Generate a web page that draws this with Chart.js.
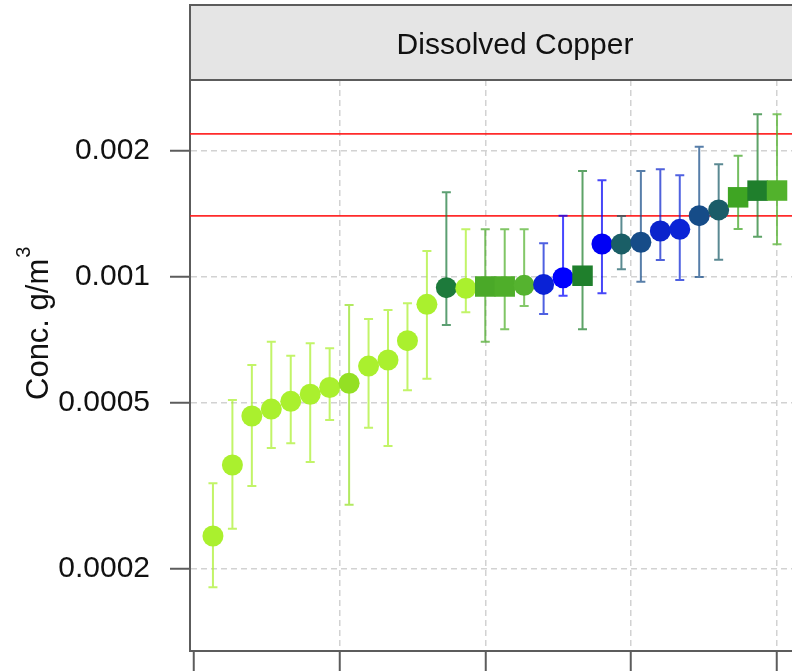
<!DOCTYPE html>
<html>
<head>
<meta charset="utf-8">
<title>Dissolved Copper</title>
<script src="https://cdn.jsdelivr.net/npm/chart.js@4/dist/chart.umd.min.js"></script>
<style>
  html, body { margin: 0; padding: 0; background: #ffffff; overflow: hidden; }
  #wrap { width: 792px; height: 671px; }
</style>
</head>
<body>
<div id="wrap"><canvas id="chart" width="792" height="671"></canvas></div>
<script>
// Samples ranked by dissolved copper concentration (g/m3)
const samples = [1, 2, 3, 4, 5, 6, 7, 8, 9, 10, 11, 12, 13, 14, 15,
                 16, 17, 18, 19, 20, 21, 22, 23, 24, 25, 26, 27, 28, 29, 30];
const conc = [0.000240, 0.000355, 0.000465, 0.000483, 0.000504, 0.000524, 0.000544, 0.000557,
              0.000612, 0.000633, 0.000704, 0.000860, 0.000943, 0.000940, 0.000949, 0.000949,
              0.000955, 0.000960, 0.000996, 0.001007, 0.001199, 0.001200, 0.001211, 0.001288,
              0.001300, 0.001402, 0.001447, 0.001551, 0.001609, 0.001610];
const upper = [0.000321, 0.000508, 0.000616, 0.000700, 0.000648, 0.000694, 0.000675, 0.000857,
               0.000793, 0.000834, 0.000865, 0.001154, 0.001594, 0.001300, 0.001300, 0.001300,
               0.001300, 0.001204, 0.001402, 0.001793, 0.001703, 0.001400, 0.001793, 0.001810,
               0.001751, 0.002050, 0.001860, 0.001951, 0.002450, 0.002450];
const lower = [0.000181, 0.000250, 0.000316, 0.000390, 0.000400, 0.000361, 0.000455, 0.000285,
               0.000436, 0.000394, 0.000536, 0.000571, 0.000768, 0.000823, 0.000700, 0.000750,
               0.000852, 0.000816, 0.000902, 0.000750, 0.000914, 0.001043, 0.000974, 0.001098,
               0.000984, 0.001000, 0.001100, 0.001302, 0.001249, 0.001197];
const markerColors = ['#aaf02e', '#aaf02e', '#aaf02e', '#aaf02e', '#aaf02e', '#aaf02e', '#aaf02e', '#94e024',
                      '#aaf02e', '#aaf02e', '#aaf02e', '#aaf02e', '#1d7a3b', '#aaf02e', '#4aa928', '#4fae2a',
                      '#55b32f', '#0a22d6', '#0000ff', '#1f7f2c', '#0000f5', '#1a5e66', '#164c88', '#0b24cc',
                      '#0b24d6', '#164c88', '#1a5c68', '#3fa523', '#1f7f2c', '#52b22c'];
const markerShapes = ['circle', 'circle', 'circle', 'circle', 'circle', 'circle', 'circle', 'circle',
                      'circle', 'circle', 'circle', 'circle', 'circle', 'circle', 'rect', 'rect',
                      'circle', 'circle', 'circle', 'rect', 'circle', 'circle', 'circle', 'circle',
                      'circle', 'circle', 'circle', 'rect', 'rect', 'rect'];
// Guideline concentrations drawn as red reference lines
const guidelines = [0.0022, 0.0014];
// Axis ticks
const yTicks = [0.0002, 0.0005, 0.001, 0.002];
const yTickLabels = ['0.0002', '0.0005', '0.001', '0.002'];
const xTicks = [0, 7.5, 15, 22.5, 30];

const panelTitle = 'Dissolved Copper';
const FONT = "'Liberation Sans', Arial, Helvetica, sans-serif";

function withAlpha(hex, a) {
  const n = parseInt(hex.slice(1), 16);
  return 'rgba(' + ((n >> 16) & 255) + ',' + ((n >> 8) & 255) + ',' + (n & 255) + ',' + a + ')';
}

// Reference lines and error bars, drawn beneath the markers
const underlayPlugin = {
  id: 'underlay',
  beforeDatasetsDraw(chart) {
    const { ctx, chartArea, scales: { x, y } } = chart;
    ctx.save();
    ctx.beginPath();
    ctx.rect(chartArea.left, chartArea.top, chartArea.right - chartArea.left, chartArea.bottom - chartArea.top);
    ctx.clip();
    ctx.strokeStyle = 'rgba(255,20,20,0.9)';
    ctx.lineWidth = 1.6;
    guidelines.forEach(v => {
      const py = y.getPixelForValue(v);
      ctx.beginPath();
      ctx.moveTo(chartArea.left, py);
      ctx.lineTo(chartArea.right, py);
      ctx.stroke();
    });
    ctx.lineWidth = 2;
    samples.forEach((s, i) => {
      const px = x.getPixelForValue(s);
      const yHi = y.getPixelForValue(upper[i]);
      const yLo = y.getPixelForValue(lower[i]);
      ctx.strokeStyle = withAlpha(markerColors[i], 0.72);
      ctx.beginPath();
      ctx.moveTo(px, yHi); ctx.lineTo(px, yLo);
      ctx.moveTo(px - 4.5, yHi); ctx.lineTo(px + 4.5, yHi);
      ctx.moveTo(px - 4.5, yLo); ctx.lineTo(px + 4.5, yLo);
      ctx.stroke();
    });
    ctx.restore();
  }
};

// Panel strip with title, and the rotated y-axis title
const framePlugin = {
  id: 'frame',
  afterDraw(chart) {
    const { ctx, chartArea } = chart;
    ctx.save();
    const top = 5, bottom = chartArea.top;
    ctx.fillStyle = '#e5e5e5';
    ctx.fillRect(chartArea.left, top, chart.width - chartArea.left + 5, bottom - top);
    ctx.strokeStyle = '#5c5c5c';
    ctx.lineWidth = 2;
    ctx.beginPath();
    ctx.moveTo(chart.width + 5, top);
    ctx.lineTo(chartArea.left, top);
    ctx.lineTo(chartArea.left, bottom);
    ctx.lineTo(chart.width + 5, bottom);
    ctx.stroke();

    ctx.fillStyle = '#111111';
    ctx.font = '30px ' + FONT;
    ctx.textAlign = 'center';
    ctx.textBaseline = 'middle';
    ctx.fillText(panelTitle, 515, 46);

    // y-axis title: Conc. g/m³
    ctx.translate(48, 400);
    ctx.rotate(-Math.PI / 2);
    ctx.textAlign = 'left';
    ctx.textBaseline = 'alphabetic';
    ctx.font = '31px ' + FONT;
    const main = 'Conc. g/m';
    ctx.fillText(main, 0, 0);
    const w = ctx.measureText(main).width;
    ctx.font = '20px ' + FONT;
    ctx.fillText('3', w + 1, -18);
    ctx.restore();
  }
};

new Chart(document.getElementById('chart'), {
  type: 'scatter',
  data: {
    datasets: [{
      data: samples.map((s, i) => ({ x: s, y: conc[i] })),
      pointStyle: markerShapes,
      pointRadius: markerShapes.map(s => (s === 'rect' ? 14.5 : 10.5)),
      backgroundColor: markerColors,
      borderColor: markerColors,
      borderWidth: 0,
      showLine: false
    }]
  },
  options: {
    responsive: false,
    devicePixelRatio: 1,
    animation: false,
    events: [],
    layout: { autoPadding: false, padding: { top: 80, left: 0, right: 0, bottom: 0 } },
    plugins: { legend: { display: false }, tooltip: { enabled: false } },
    scales: {
      x: {
        type: 'linear',
        min: -0.18,
        max: 30.77,
        afterBuildTicks(scale) { scale.ticks = xTicks.map(v => ({ value: v })); },
        afterFit(scale) {
          scale.height = 20;
          scale.paddingLeft = 0; scale.paddingRight = 0;
          scale.paddingTop = 0; scale.paddingBottom = 0;
        },
        ticks: { display: false },
        grid: {
          color: c => (c.tick && c.tick.value === 0 ? 'rgba(0,0,0,0)' : '#d2d2d2'),
          lineWidth: 1.5,
          tickLength: 20,
          tickColor: '#5c5c5c',
          tickWidth: 2
        },
        border: { display: true, color: '#5c5c5c', width: 2, dash: [6, 4] }
      },
      y: {
        type: 'logarithmic',
        min: 0.0001274,
        max: 0.00296,
        afterBuildTicks(scale) { scale.ticks = yTicks.map(v => ({ value: v })); },
        afterFit(scale) {
          scale.width = 190;
          scale.paddingTop = 0; scale.paddingBottom = 0;
          scale.paddingLeft = 0; scale.paddingRight = 0;
        },
        ticks: {
          padding: 20,
          color: '#111111',
          font: { family: FONT, size: 30 },
          callback: (v, i) => yTickLabels[i]
        },
        grid: {
          color: '#d2d2d2',
          lineWidth: 1.5,
          tickLength: 20,
          tickColor: '#5c5c5c',
          tickWidth: 2
        },
        border: { display: true, color: '#5c5c5c', width: 2, dash: [6, 4] }
      }
    }
  },
  plugins: [underlayPlugin, framePlugin]
});
</script>
</body>
</html>
